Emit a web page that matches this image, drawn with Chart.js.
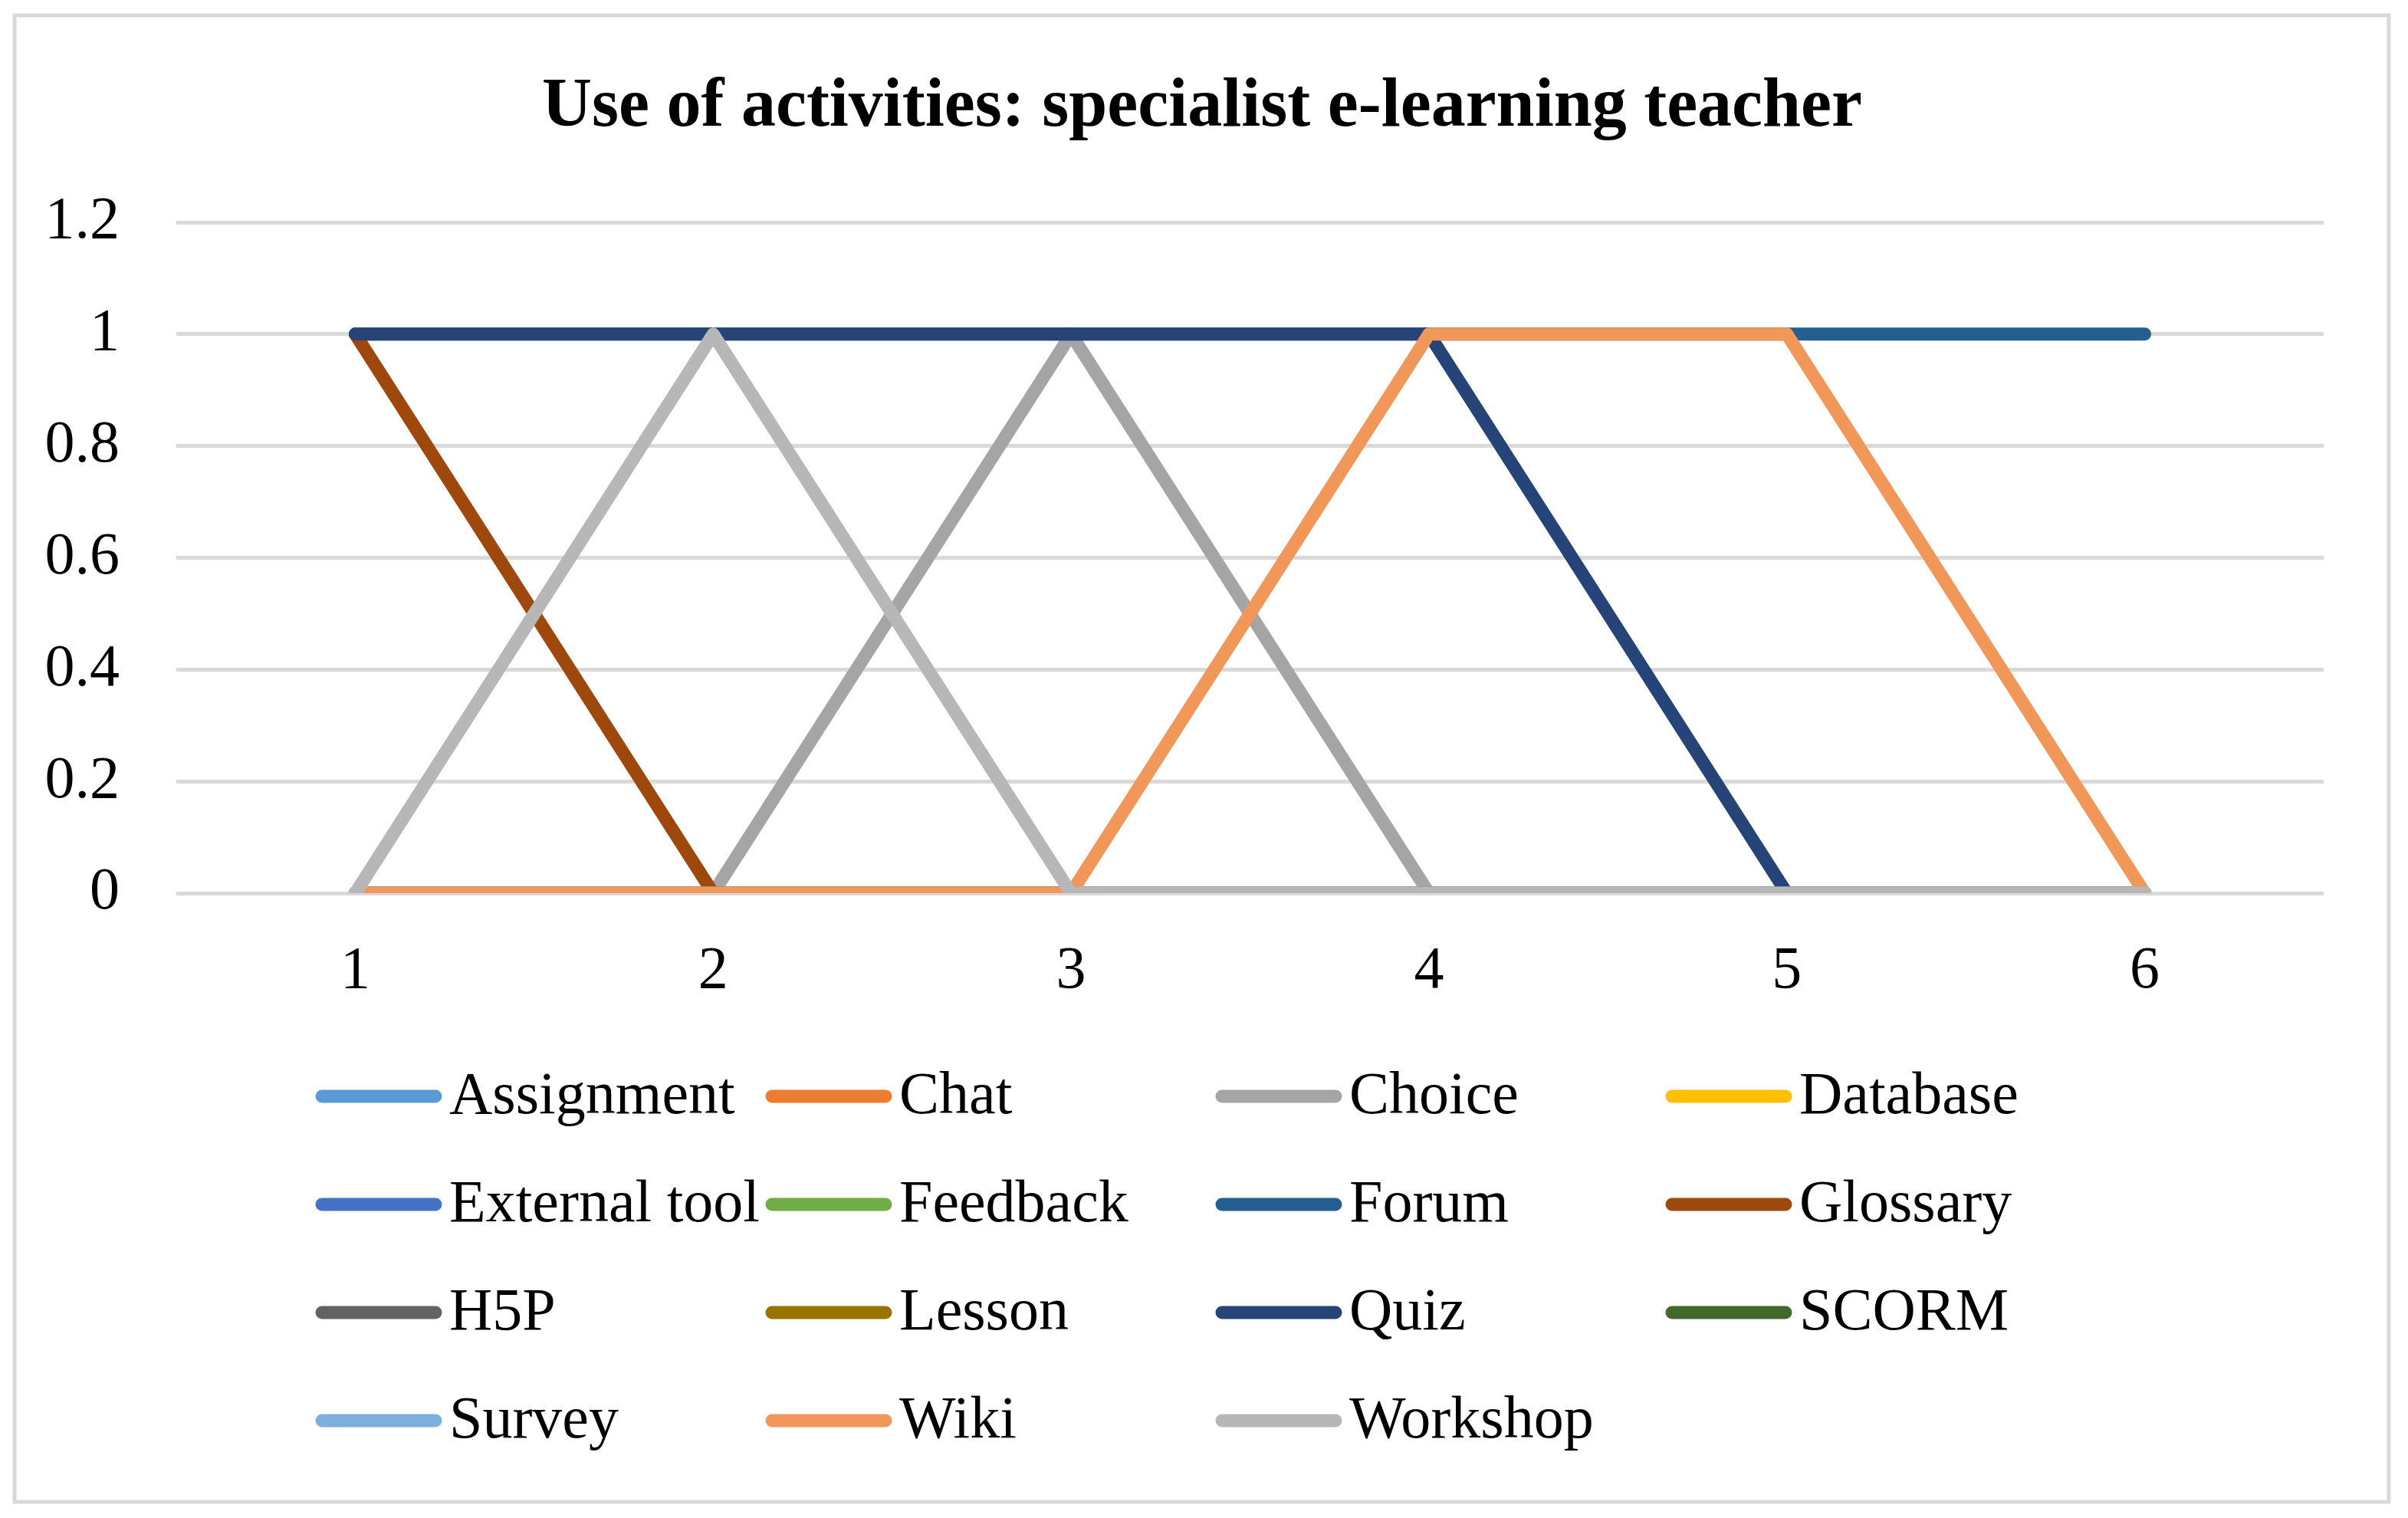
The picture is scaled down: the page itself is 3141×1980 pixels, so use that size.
<!DOCTYPE html>
<html>
<head>
<meta charset="utf-8">
<script src="https://cdn.jsdelivr.net/npm/chart.js@4/dist/chart.umd.min.js"></script>
<style>
  html, body { margin: 0; padding: 0; background: #ffffff; }
  #wrap { width: 3141px; height: 1980px; position: relative; }
</style>
</head>
<body>
<div id="wrap"><canvas id="c"></canvas></div>
<script>
const categories = ['1', '2', '3', '4', '5', '6'];
const seriesNames = ['Assignment', 'Chat', 'Choice', 'Database', 'External tool', 'Feedback', 'Forum', 'Glossary', 'H5P', 'Lesson', 'Quiz', 'SCORM', 'Survey', 'Wiki', 'Workshop'];
const seriesColors = ['#5B9BD5', '#ED7D31', '#A5A5A5', '#FFC000', '#4472C4', '#70AD47', '#255E91', '#9E480E', '#636363', '#997300', '#264478', '#43682B', '#7CAFDD', '#F1975A', '#B7B7B7'];
const assignment = [0, 0, 0, 0, 0, 0];
const chat = [0, 0, 0, 0, 0, 0];
const choice = [0, 0, 1, 0, 0, 0];
const database = [0, 0, 0, 0, 0, 0];
const externalTool = [0, 0, 0, 0, 0, 0];
const feedback = [0, 0, 0, 0, 0, 0];
const forum = [1, 1, 1, 1, 1, 1];
const glossary = [1, 0, 0, 0, 0, 0];
const h5p = [0, 0, 0, 0, 0, 0];
const lesson = [0, 0, 0, 0, 0, 0];
const quiz = [1, 1, 1, 1, 0, 0];
const scorm = [0, 0, 0, 0, 0, 0];
const survey = [0, 0, 0, 0, 0, 0];
const wiki = [0, 0, 0, 1, 1, 0];
const workshop = [0, 1, 0, 0, 0, 0];
const yTicks = [0, 0.2, 0.4, 0.6, 0.8, 1, 1.2];
const titleText = 'Use of activities: specialist e-learning teacher';

const seriesValues = [assignment, chat, choice, database, externalTool, feedback, forum, glossary, h5p, lesson, quiz, scorm, survey, wiki, workshop];

const FONT = "'Liberation Serif', 'Times New Roman', serif";

const datasets = seriesNames.map((name, i) => ({
  label: name,
  data: seriesValues[i],
  borderColor: seriesColors[i],
  backgroundColor: seriesColors[i],
  borderWidth: 17,
  borderCapStyle: 'round',
  borderJoinStyle: 'round',
  pointRadius: 0,
  pointHoverRadius: 0,
  tension: 0,
  fill: false,
  order: -i
}));

const framePlugin = {
  id: 'frame',
  beforeDraw(chart) {
    const ctx = chart.ctx;
    ctx.save();
    ctx.fillStyle = '#ffffff';
    ctx.fillRect(0, 0, chart.width, chart.height);
    ctx.strokeStyle = '#D9D9D9';
    ctx.lineWidth = 5;
    ctx.strokeRect(19, 20, 3097, 1939);
    ctx.restore();
  },
  afterDraw(chart) {
    const ctx = chart.ctx;
    ctx.save();
    ctx.font = 'bold 90px ' + FONT;
    ctx.fillStyle = '#000000';
    ctx.textAlign = 'center';
    ctx.textBaseline = 'alphabetic';
    ctx.fillText(titleText, 1568, 164);
    ctx.restore();
  }
};

const legendPlugin = {
  id: 'gridLegend',
  afterDraw(chart) {
    const ctx = chart.ctx;
    ctx.save();
    ctx.font = '78px ' + FONT;
    ctx.textAlign = 'left';
    ctx.textBaseline = 'alphabetic';
    chart.data.datasets.forEach((ds, i) => {
      const col = i % 4;
      const row = Math.floor(i / 4);
      const x0 = 411 + col * 587;
      const y = 1430 + row * 141;
      ctx.strokeStyle = ds.borderColor;
      ctx.lineWidth = 17;
      ctx.lineCap = 'round';
      ctx.beginPath();
      ctx.moveTo(x0 + 9, y);
      ctx.lineTo(x0 + 157, y);
      ctx.stroke();
      ctx.fillStyle = '#000000';
      ctx.fillText(ds.label, x0 + 175, y + 22);
    });
    ctx.restore();
  }
};

new Chart(document.getElementById('c'), {
  type: 'line',
  data: { labels: categories, datasets: datasets },
  plugins: [framePlugin, legendPlugin],
  options: {
    responsive: true,
    maintainAspectRatio: false,
    animation: false,
    events: [],
    layout: { padding: { left: 0, right: 110, top: 290, bottom: 645 } },
    plugins: {
      legend: { display: false },
      tooltip: { enabled: false },
      title: { display: false }
    },
    scales: {
      x: {
        type: 'category',
        offset: true,
        grid: { display: false, drawTicks: false },
        border: { display: false },
        ticks: { color: '#000000', font: { family: FONT, size: 78 }, padding: 56, maxRotation: 0 },
        afterFit(scale) { scale.height = 170; }
      },
      y: {
        min: 0,
        max: 1.2,
        afterBuildTicks(scale) { scale.ticks = yTicks.map(v => ({ value: v })); },
        grid: { color: '#D9D9D9', lineWidth: 5, drawTicks: false },
        border: { display: false },
        ticks: {
          color: '#000000',
          font: { family: FONT, size: 78 },
          padding: 74,
          callback: (v) => String(Math.round(v * 10) / 10)
        },
        afterFit(scale) { scale.width = 230; }
      }
    }
  }
});
</script>
</body>
</html>
